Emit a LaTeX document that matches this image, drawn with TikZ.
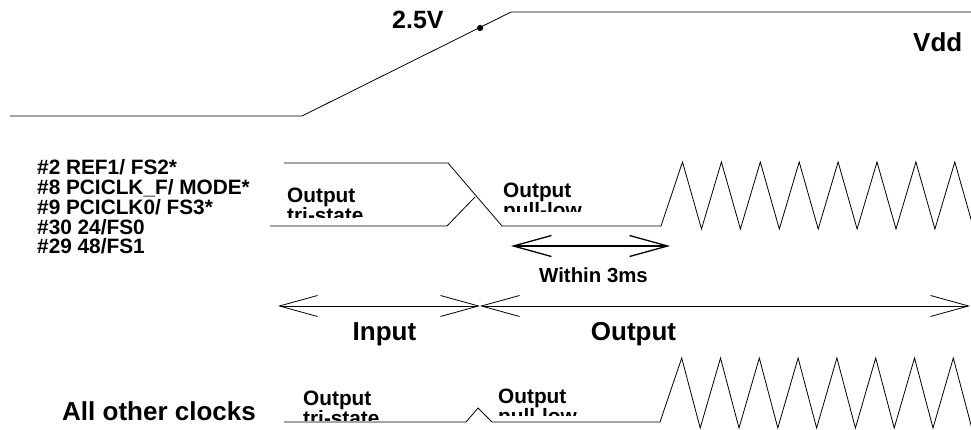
\documentclass[tikz,border=0pt]{standalone}
\usepackage{fontspec}
\setmainfont{Liberation Sans}
\usetikzlibrary{arrows.meta}
\tikzset{
  wire/.style={line width=0.8pt, line join=miter},
  biglbl/.style={inner sep=0pt, font=\bfseries\fontsize{26}{28}\selectfont},
  pinlbl/.style={inner sep=0pt, anchor=base west, font=\bfseries\fontsize{20.8}{20}\selectfont},
  smalllbl/.style={inner sep=0pt, anchor=base west, font=\bfseries\fontsize{20.8}{20}\selectfont},
  spanarrow/.style={line width=0.8pt, {Straight Barb[length=38pt,width=21pt]}-{Straight Barb[length=38pt,width=21pt]}},
}
\begin{document}
\begin{tikzpicture}[x=1pt,y=-1pt]
\useasboundingbox (0,0) rectangle (971,430);
\clip (0,0) rectangle (971,430);

% Vdd ramp
\coordinate (v0) at (10,116);
\coordinate (v1) at (302,116);
\coordinate (v2) at (511,12);
\coordinate (v3) at (975,12);
\coordinate (dot) at (480,28);
\draw[wire] (v0) -- (v1) -- (v2) -- (v3);
\fill (dot) circle (3.1);
\node[biglbl, anchor=base west, font=\bfseries\fontsize{25}{27}\selectfont] (l25) at (392,29) {2.5V};
\node[biglbl, anchor=base west] (vdd) at (913,52) {Vdd};

% pin labels
\node[pinlbl] (p1) at (37,175) {\#2 REF1/ FS2*};
\node[pinlbl] (p2) at (37,195) {\#8 PCICLK\_F/ MODE*};
\node[pinlbl] (p3) at (37,215) {\#9 PCICLK0/ FS3*};
\node[pinlbl] (p4) at (37,234.5) {\#30 24/FS0};
\node[pinlbl] (p5) at (37,254) {\#29 48/FS1};

% first signal
\coordinate (a0) at (284,163);
\coordinate (a1) at (448,163);
\coordinate (a2) at (502,226);
\coordinate (a3) at (661,226);
\coordinate (b0) at (270,226);
\coordinate (b1) at (447,226);
\coordinate (b2) at (475,197);
\draw[wire] (a0) -- (a1) -- (a2) -- (a3)
  \foreach \k in {0,...,7} { -- ({682.5+38.9*\k},162) -- ({701.5+38.9*\k},229) };
\draw[wire] (b0) -- (b1) -- (b2);

\node[smalllbl] (o1) at (287,203) {Output};
\node[smalllbl] (o2) at (503,198) {Output};
\begin{scope}
  \clip (280,150) rectangle (440,218);
  \node[smalllbl] (t1) at (287,223) {tri-state};
\end{scope}
\begin{scope}
  \clip (500,150) rectangle (650,212);
  \node[smalllbl] (t2) at (503,218) {pull-low};
\end{scope}

% within 3ms
\coordinate (w0) at (511,246);
\coordinate (w1) at (670,246);
\draw[spanarrow, line width=1.3pt] (w0) -- (w1);
\node[anchor=base, inner sep=0pt, font=\bfseries\fontsize{20.4}{22}\selectfont] (w3) at (593.5,282) {Within 3ms};

% input / output arrows
\coordinate (i0) at (278,306);
\coordinate (i1) at (480,306);
\coordinate (i2) at (970,306);
\draw[spanarrow] (i0) -- (i1);
\draw[spanarrow] (i1) -- (i2);
\node[biglbl, anchor=base] (inp) at (384.5,340) {Input};
\node[biglbl, anchor=base] (outp) at (633.5,340) {Output};

% all other clocks
\node[biglbl, anchor=base west] (aoc) at (62,420) {All other clocks};
\coordinate (c0) at (284,422);
\coordinate (c1) at (466,422);
\coordinate (c2) at (478,408);
\coordinate (c3) at (492,422);
\coordinate (c4) at (660,422);
\draw[wire] (c0) -- (c1) -- (c2) -- (c3) -- (c4)
  \foreach \k in {0,...,7} { -- ({681.7+38.8*\k},358) -- ({700.2+38.8*\k},428) };

\node[smalllbl] (o3) at (303,405) {Output};
\node[smalllbl] (o4) at (498,403) {Output};
\begin{scope}
  \clip (295,380) rectangle (460,420);
  \node[smalllbl] (t3) at (303,425) {tri-state};
\end{scope}
\begin{scope}
  \clip (495,380) rectangle (650,415);
  \node[smalllbl] (t4) at (498,423) {pull-low};
\end{scope}
\end{tikzpicture}
\end{document}
